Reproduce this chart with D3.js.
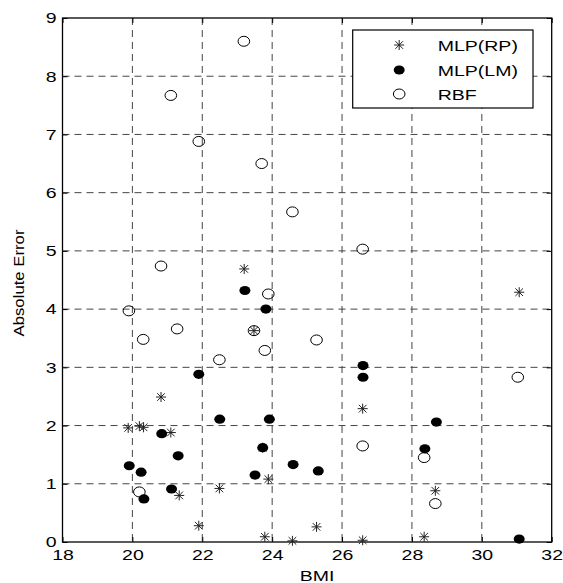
<!DOCTYPE html>
<html>
<head>
<meta charset="utf-8">
<script src="https://cdn.jsdelivr.net/npm/d3@7"></script>
<style>
  body { margin: 0; background: #fff; }
  text { font-family: "Liberation Sans", Arial, sans-serif; }
</style>
</head>
<body>
<div id="chart"></div>
<script>
// Data
const rpX = [19.88, 20.2, 20.32, 20.82, 21.1, 21.34, 21.9, 22.49, 23.2, 23.48, 23.73, 23.79, 23.89, 24.58, 25.27, 26.59, 26.59, 28.35, 28.67, 31.07];
const rpY = [1.96, 1.99, 1.97, 2.49, 1.88, 0.80, 0.28, 0.92, 4.69, 3.63, 1.62, 0.09, 1.08, 0.02, 0.26, 2.29, 0.03, 0.09, 0.88, 4.29];

const lmX = [19.91, 20.25, 20.33, 20.84, 21.12, 21.31, 21.9, 22.5, 23.22, 23.51, 23.73, 23.82, 23.92, 24.6, 25.32, 26.6, 26.6, 28.37, 28.7, 31.07];
const lmY = [1.31, 1.2, 0.74, 1.86, 0.91, 1.48, 2.88, 2.11, 4.32, 1.15, 1.62, 4.0, 2.11, 1.33, 1.22, 3.03, 2.83, 1.6, 2.06, 0.05];

const rbfX = [19.9, 20.2, 20.31, 20.82, 21.1, 21.28, 21.9, 22.49, 23.19, 23.48, 23.7, 23.79, 23.89, 24.58, 25.27, 26.59, 26.59, 28.35, 28.67, 31.03];
const rbfY = [3.97, 0.86, 3.48, 4.74, 7.67, 3.66, 6.88, 3.13, 8.6, 3.63, 6.5, 3.29, 4.26, 5.67, 3.47, 5.03, 1.65, 1.45, 0.66, 2.83];

const xTicks = [18, 20, 22, 24, 26, 28, 30, 32];
const yTicks = [0, 1, 2, 3, 4, 5, 6, 7, 8, 9];
const legendNames = ["MLP(RP)", "MLP(LM)", "RBF"];

const width = 563, height = 583;
const margin = {top: 18, right: 11.3, bottom: 41, left: 62.5};
const innerW = width - margin.left - margin.right;
const innerH = height - margin.top - margin.bottom;
const STRETCH = 1.3; // the source picture is stretched horizontally

let svg = d3.select("#chart")
    .append("svg")
    .attr("width", width)
    .attr("height", height)
    .append("g")
    .attr("transform", `translate(${margin.left}, ${margin.top})`);

let x = d3.scaleLinear().domain([18, 32]).range([0, innerW]);
let y = d3.scaleLinear().domain([0, 9]).range([innerH, 0]);

// widen text the same way the picture does
function stretchText(sel) {
    sel.each(function() {
        let len = this.getComputedTextLength();
        d3.select(this).attr("textLength", len * STRETCH).attr("lengthAdjust", "spacingAndGlyphs");
    });
}

// Dashed grid
svg.append("g")
    .selectAll("line")
    .data(xTicks.slice(1, -1))
    .enter().append("line")
    .attr("x1", d => x(d)).attr("x2", d => x(d))
    .attr("y1", 0).attr("y2", innerH)
    .attr("stroke", "#444").attr("stroke-width", 1)
    .attr("stroke-dasharray", "7,5");

svg.append("g")
    .selectAll("line")
    .data(yTicks.slice(1, -1))
    .enter().append("line")
    .attr("x1", 0).attr("x2", innerW)
    .attr("y1", d => y(d)).attr("y2", d => y(d))
    .attr("stroke", "#444").attr("stroke-width", 1)
    .attr("stroke-dasharray", "7,5");

// Axes (inward ticks, like MATLAB)
let xAxis = svg.append("g")
    .attr("transform", `translate(0, ${innerH})`)
    .call(d3.axisBottom(x).tickValues(xTicks).tickSizeInner(-5).tickSizeOuter(0).tickPadding(7));
let yAxis = svg.append("g")
    .call(d3.axisLeft(y).tickValues(yTicks).tickSizeInner(-5).tickSizeOuter(0).tickPadding(6));
svg.append("g")
    .call(d3.axisTop(x).tickValues(xTicks).tickSizeInner(-5).tickSizeOuter(0).tickFormat(""));
svg.append("g")
    .attr("transform", `translate(${innerW}, 0)`)
    .call(d3.axisRight(y).tickValues(yTicks).tickSizeInner(-5).tickSizeOuter(0).tickFormat(""));

svg.selectAll(".domain").remove();
svg.selectAll(".tick line").attr("stroke", "#000");

[xAxis, yAxis].forEach(a => {
    a.selectAll("text")
        .attr("fill", "#000")
        .style("font-size", "15px")
        .call(stretchText);
});

// Plot box
svg.append("rect")
    .attr("width", innerW).attr("height", innerH)
    .attr("fill", "none").attr("stroke", "#000").attr("stroke-width", 1.3);

// Axis labels
svg.append("text")
    .attr("x", innerW / 2 + 10)
    .attr("y", innerH + 38.5)
    .attr("text-anchor", "middle")
    .style("font-size", "15px")
    .text("BMI")
    .call(stretchText);

svg.append("text")
    .attr("transform", `translate(${18 - margin.left + 6}, ${innerH / 2 + 3}) rotate(-90)`)
    .attr("text-anchor", "middle")
    .style("font-size", "14px")
    .attr("textLength", 107)
    .attr("lengthAdjust", "spacingAndGlyphs")
    .text("Absolute Error");

// Marker helpers
function star(g, cx, cy) {
    let r = 5, d = 3.8;
    let path = `M${cx - r},${cy}L${cx + r},${cy}M${cx},${cy - r}L${cx},${cy + r}` +
        `M${cx - d},${cy - d}L${cx + d},${cy + d}M${cx - d},${cy + d}L${cx + d},${cy - d}`;
    g.append("path").attr("d", path).attr("stroke", "#222").attr("stroke-width", 1).attr("fill", "none");
}

let rpData = rpX.map((v, i) => ({x: v, y: rpY[i]}));
let lmData = lmX.map((v, i) => ({x: v, y: lmY[i]}));
let rbfData = rbfX.map((v, i) => ({x: v, y: rbfY[i]}));

let rpG = svg.append("g");
rpData.forEach(d => star(rpG, x(d.x), y(d.y)));

svg.append("g")
    .selectAll("ellipse")
    .data(lmData)
    .enter().append("ellipse")
    .attr("cx", d => x(d.x)).attr("cy", d => y(d.y))
    .attr("rx", 5.5).attr("ry", 4.6)
    .attr("fill", "#000");

svg.append("g")
    .selectAll("ellipse")
    .data(rbfData)
    .enter().append("ellipse")
    .attr("cx", d => x(d.x)).attr("cy", d => y(d.y))
    .attr("rx", 5.8).attr("ry", 5)
    .attr("fill", "none")
    .attr("stroke", "#000").attr("stroke-width", 1);

// Legend
let lg = svg.append("g").attr("transform", `translate(${352.7 - margin.left}, ${30 - margin.top})`);
lg.append("rect")
    .attr("width", 180.3).attr("height", 78)
    .attr("fill", "#fff").attr("stroke", "#000").attr("stroke-width", 1.2);

let rowY = [15, 40, 64];
star(lg, 46.5, rowY[0]);
lg.append("ellipse").attr("cx", 46.5).attr("cy", rowY[1]).attr("rx", 5.5).attr("ry", 4.6).attr("fill", "#000");
lg.append("ellipse").attr("cx", 46.5).attr("cy", rowY[2]).attr("rx", 5.8).attr("ry", 5)
    .attr("fill", "none").attr("stroke", "#000");

lg.selectAll("text.leg")
    .data(legendNames)
    .enter().append("text")
    .attr("class", "leg")
    .attr("x", 85)
    .attr("y", (d, i) => rowY[i] + 5.5)
    .style("font-size", "15px")
    .text(d => d)
    .call(stretchText);
</script>
</body>
</html>
